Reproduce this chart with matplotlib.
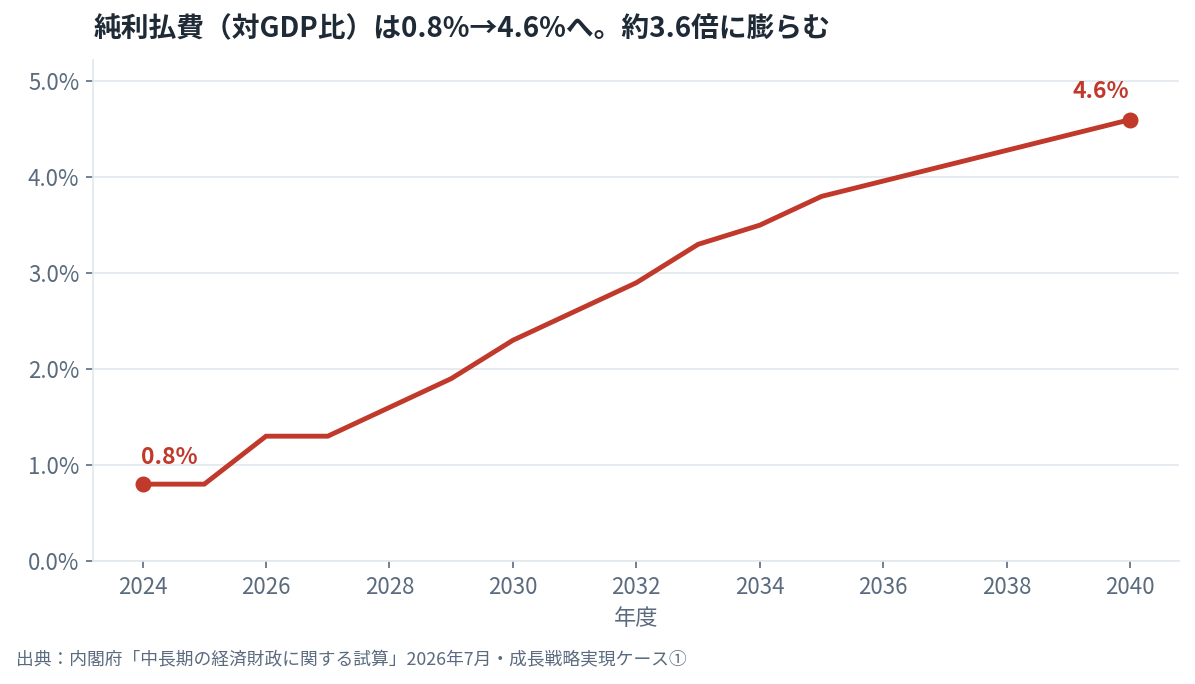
import matplotlib
matplotlib.use("Agg")
import matplotlib.pyplot as plt
from matplotlib.ticker import FuncFormatter

plt.rcParams["font.family"] = ["Noto Sans CJK JP", "DejaVu Sans"]

years = [2024, 2025, 2026, 2027, 2028, 2029, 2030, 2031, 2032, 2033, 2034, 2035, 2040]
ratio = [0.8, 0.8, 1.3, 1.3, 1.6, 1.9, 2.3, 2.6, 2.9, 3.3, 3.5, 3.8, 4.6]
xticks = list(range(2024, 2041, 2))
yticks = [0, 1, 2, 3, 4, 5]

title = "純利払費（対GDP比）は0.8%→4.6%へ。約3.6倍に膨らむ"
source = "出典：内閣府「中長期の経済財政に関する試算」2026年7月・成長戦略実現ケース①"

red = "#c0392b"
grid_c = "#e2e8f0"
tick_c = "#5b6b7f"

fig = plt.figure(figsize=(11.95, 6.84), dpi=100)
ax = fig.add_axes([0.078, 0.180, 0.909, 0.732])

ax.plot(years, ratio, color=red, lw=3.5, solid_joinstyle="miter", zorder=3)
ax.scatter([years[0], years[-1]], [ratio[0], ratio[-1]], s=110, color=red, zorder=4)
ax.annotate(f"{ratio[0]}%", (years[0], ratio[0]), xytext=(-1, 11), textcoords="offset points",
            ha="left", va="bottom", color=red, fontsize=16.5, fontweight="bold")
ax.annotate(f"{ratio[-1]}%", (years[-1], ratio[-1]), xytext=(-1, 12), textcoords="offset points",
            ha="right", va="bottom", color=red, fontsize=16.5, fontweight="bold")

ax.set_xlim(2023.2, 2040.8)
ax.set_ylim(0, 5.22)
ax.set_xticks(xticks)
ax.set_yticks(yticks)
ax.yaxis.set_major_formatter(FuncFormatter(lambda v, p: f"{v:.1f}%"))
ax.grid(axis="y", color=grid_c, lw=1.2)
ax.set_axisbelow(True)
for s in ["top", "right"]:
    ax.spines[s].set_visible(False)
for s in ["left", "bottom"]:
    ax.spines[s].set_color(grid_c)
    ax.spines[s].set_linewidth(1.2)
ax.tick_params(colors=tick_c, labelsize=16, length=5, width=1.2)
ax.tick_params(axis="x", pad=6)
ax.tick_params(axis="y", pad=5)
ax.set_xlabel("年度", color=tick_c, fontsize=16, labelpad=6)

fig.text(0.078, 0.957, title, fontsize=20, fontweight="bold", color="#1f2a37", va="center")
fig.text(0.013, 0.035, source, fontsize=12.8, color="#5b6b7f", va="center")

fig.savefig("out.png", dpi=100)
